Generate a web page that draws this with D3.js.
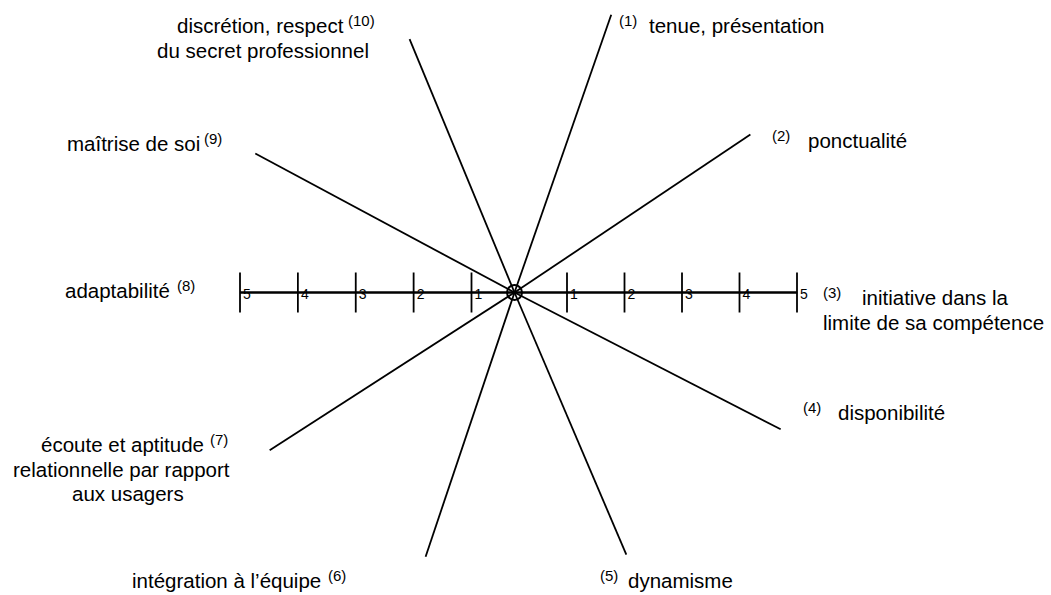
<!DOCTYPE html>
<html>
<head>
<meta charset="utf-8">
<script src="https://cdn.jsdelivr.net/npm/d3@7"></script>
<style>
  html, body { margin: 0; padding: 0; background: #fff; }
  svg { display: block; }
  text { font-family: "Liberation Sans", Arial, sans-serif; fill: #000; }
</style>
</head>
<body>
<svg id="chart" width="1051" height="595"></svg>
<script>
// ---- data ----
const criteriaLines = [
  ["tenue, présentation"],
  ["ponctualité"],
  ["initiative dans la", "limite de sa compétence"],
  ["disponibilité"],
  ["dynamisme"],
  ["intégration à l’équipe"],
  ["écoute et aptitude", "relationnelle par rapport", "aux usagers"],
  ["adaptabilité"],
  ["maîtrise de soi"],
  ["discrétion, respect", "du secret professionnel"]
];
const criterionNumbers = ["(1)", "(2)", "(3)", "(4)", "(5)", "(6)", "(7)", "(8)", "(9)", "(10)"];
// direction of each axis, degrees clockwise from vertical
const axisAngles = [19.2, 56.2, 90, 117.2, 156.9, 198.6, 237.2, 270, 298.2, 337.5];
// extent of each axis, in scale units
const axisReach = [5.16, 4.98, 4.96, 5.25, 5.0, 4.89, 5.11, 4.81, 5.16, 4.81];
const scaleTicks = [-5, -4, -3, -2, -1, 1, 2, 3, 4, 5];

// ---- layout ----
const cx = 514.5, cy = 292.5;
const svg = d3.select("#chart");
const r = d3.scaleLinear().domain([0, 5]).range([0, 285]);
const x = d3.scaleLinear().domain([-5, -1, 0, 1, 5]).range([240, 471.5, cx, 567, 797]);

const g = svg.append("g");

// spokes
g.selectAll("line.spoke")
  .data(axisAngles.map((a, i) => ({ a, reach: axisReach[i] })))
  .join("line")
  .attr("class", "spoke")
  .attr("x1", cx).attr("y1", cy)
  .attr("x2", d => cx + r(d.reach) * Math.sin(d.a * Math.PI / 180))
  .attr("y2", d => cy - r(d.reach) * Math.cos(d.a * Math.PI / 180))
  .attr("stroke", "#000").attr("stroke-width", 1.8);

// horizontal graduated axis
g.append("line")
  .attr("x1", x(-5)).attr("x2", x(5))
  .attr("y1", cy).attr("y2", cy)
  .attr("stroke", "#000").attr("stroke-width", 1.8);

const ticks = g.selectAll("g.tick").data(scaleTicks).join("g")
  .attr("class", "tick")
  .attr("transform", d => `translate(${x(d)},${cy})`);
ticks.append("line")
  .attr("y1", -20).attr("y2", 20)
  .attr("stroke", "#000").attr("stroke-width", 1.8);
ticks.append("text")
  .attr("x", 3).attr("y", 6)
  .attr("font-size", 14)
  .text(d => Math.abs(d));

// centre circle
g.append("circle")
  .attr("cx", cx).attr("cy", cy).attr("r", 7.5)
  .attr("fill", "none").attr("stroke", "#000").attr("stroke-width", 2);

// labels
const FS = 20.5, SUP = 15, LH = 24.5;
const labelLayout = [
  { numX: 619, x: 649, y: 33 },
  { numX: 772, x: 808, y: 148 },
  { numX: 823, x: 862, y: 305, lineXs: [862, 823] },
  { numX: 803, x: 838, y: 420 },
  { numX: 600, x: 628, y: 588 },
  { numX: 328, x: 132, y: 588 },
  { numX: 210, x: 41, y: 452, lineXs: [41, 13, 72] },
  { numX: 177, x: 65, y: 298 },
  { numX: 204, x: 67, y: 151 },
  { numX: 348, x: 177, y: 33, lineXs: [177, 157] }
];

criteriaLines.forEach((lines, i) => {
  const L = labelLayout[i];
  g.append("text").attr("x", L.numX).attr("y", L.y - 7)
    .attr("font-size", SUP).text(criterionNumbers[i]);
  const t = g.append("text").attr("font-size", FS);
  lines.forEach((line, j) => {
    const lx = L.lineXs ? L.lineXs[j] : L.x;
    t.append("tspan").attr("x", lx).attr("y", L.y + j * LH).text(line);
  });
});
</script>
</body>
</html>
